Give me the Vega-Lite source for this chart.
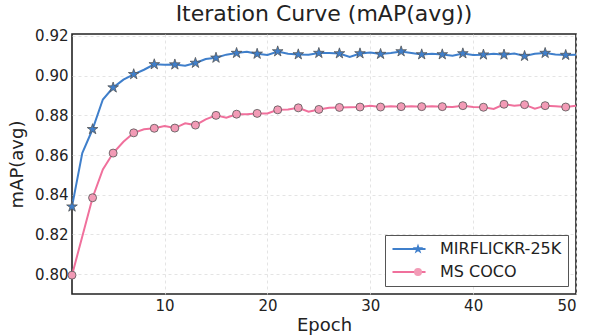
{
  "$schema": "https://vega.github.io/schema/vega-lite/v6.json",
  "width": 504,
  "height": 260,
  "autosize": {"type": "none"},
  "padding": {"left": 72, "top": 34, "right": 19, "bottom": 41},
  "title": {"text": "Iteration Curve (mAP(avg))", "fontSize": 22, "fontWeight": "normal", "color": "#222", "offset": 3},
  "config": {
    "font": "DejaVu Sans",
    "view": {"stroke": "#222", "strokeWidth": 1.6},
    "axis": {"domain": false, "ticks": false, "grid": true, "gridDash": [3, 3], "gridColor": "#dddddd", "gridWidth": 0.8, "labelFontSize": 15, "labelColor": "#222", "titleFontSize": 18, "titleFontWeight": "normal", "titleColor": "#222"}
  },
  "data": {"values": [
    {"epoch":1,"series":"MIRFLICKR-25K","map":0.834},{"epoch":2,"series":"MIRFLICKR-25K","map":0.861},{"epoch":3,"series":"MIRFLICKR-25K","map":0.873},{"epoch":4,"series":"MIRFLICKR-25K","map":0.888},{"epoch":5,"series":"MIRFLICKR-25K","map":0.894},{"epoch":6,"series":"MIRFLICKR-25K","map":0.898},{"epoch":7,"series":"MIRFLICKR-25K","map":0.9007},{"epoch":8,"series":"MIRFLICKR-25K","map":0.903},{"epoch":9,"series":"MIRFLICKR-25K","map":0.9057},{"epoch":10,"series":"MIRFLICKR-25K","map":0.9055},
    {"epoch":11,"series":"MIRFLICKR-25K","map":0.9056},{"epoch":12,"series":"MIRFLICKR-25K","map":0.905},{"epoch":13,"series":"MIRFLICKR-25K","map":0.9064},{"epoch":14,"series":"MIRFLICKR-25K","map":0.9084},{"epoch":15,"series":"MIRFLICKR-25K","map":0.909},{"epoch":16,"series":"MIRFLICKR-25K","map":0.9106},{"epoch":17,"series":"MIRFLICKR-25K","map":0.9114},{"epoch":18,"series":"MIRFLICKR-25K","map":0.912},{"epoch":19,"series":"MIRFLICKR-25K","map":0.911},{"epoch":20,"series":"MIRFLICKR-25K","map":0.9104},
    {"epoch":21,"series":"MIRFLICKR-25K","map":0.9122},{"epoch":22,"series":"MIRFLICKR-25K","map":0.911},{"epoch":23,"series":"MIRFLICKR-25K","map":0.9107},{"epoch":24,"series":"MIRFLICKR-25K","map":0.9106},{"epoch":25,"series":"MIRFLICKR-25K","map":0.9114},{"epoch":26,"series":"MIRFLICKR-25K","map":0.9114},{"epoch":27,"series":"MIRFLICKR-25K","map":0.9112},{"epoch":28,"series":"MIRFLICKR-25K","map":0.9094},{"epoch":29,"series":"MIRFLICKR-25K","map":0.9112},{"epoch":30,"series":"MIRFLICKR-25K","map":0.9117},
    {"epoch":31,"series":"MIRFLICKR-25K","map":0.9109},{"epoch":32,"series":"MIRFLICKR-25K","map":0.9114},{"epoch":33,"series":"MIRFLICKR-25K","map":0.9122},{"epoch":34,"series":"MIRFLICKR-25K","map":0.9114},{"epoch":35,"series":"MIRFLICKR-25K","map":0.9107},{"epoch":36,"series":"MIRFLICKR-25K","map":0.911},{"epoch":37,"series":"MIRFLICKR-25K","map":0.9107},{"epoch":38,"series":"MIRFLICKR-25K","map":0.91},{"epoch":39,"series":"MIRFLICKR-25K","map":0.9112},{"epoch":40,"series":"MIRFLICKR-25K","map":0.9104},
    {"epoch":41,"series":"MIRFLICKR-25K","map":0.9106},{"epoch":42,"series":"MIRFLICKR-25K","map":0.911},{"epoch":43,"series":"MIRFLICKR-25K","map":0.9106},{"epoch":44,"series":"MIRFLICKR-25K","map":0.9112},{"epoch":45,"series":"MIRFLICKR-25K","map":0.9099},{"epoch":46,"series":"MIRFLICKR-25K","map":0.911},{"epoch":47,"series":"MIRFLICKR-25K","map":0.9114},{"epoch":48,"series":"MIRFLICKR-25K","map":0.9107},{"epoch":49,"series":"MIRFLICKR-25K","map":0.9104},{"epoch":50,"series":"MIRFLICKR-25K","map":0.9106},
    {"epoch":1,"series":"MS COCO","map":0.7995},{"epoch":2,"series":"MS COCO","map":0.819},{"epoch":3,"series":"MS COCO","map":0.8385},{"epoch":4,"series":"MS COCO","map":0.8528},{"epoch":5,"series":"MS COCO","map":0.861},{"epoch":6,"series":"MS COCO","map":0.8667},{"epoch":7,"series":"MS COCO","map":0.8712},{"epoch":8,"series":"MS COCO","map":0.873},{"epoch":9,"series":"MS COCO","map":0.8735},{"epoch":10,"series":"MS COCO","map":0.8746},
    {"epoch":11,"series":"MS COCO","map":0.8736},{"epoch":12,"series":"MS COCO","map":0.876},{"epoch":13,"series":"MS COCO","map":0.8751},{"epoch":14,"series":"MS COCO","map":0.878},{"epoch":15,"series":"MS COCO","map":0.88},{"epoch":16,"series":"MS COCO","map":0.8788},{"epoch":17,"series":"MS COCO","map":0.8806},{"epoch":18,"series":"MS COCO","map":0.8806},{"epoch":19,"series":"MS COCO","map":0.881},{"epoch":20,"series":"MS COCO","map":0.881},
    {"epoch":21,"series":"MS COCO","map":0.8828},{"epoch":22,"series":"MS COCO","map":0.883},{"epoch":23,"series":"MS COCO","map":0.8838},{"epoch":24,"series":"MS COCO","map":0.8818},{"epoch":25,"series":"MS COCO","map":0.883},{"epoch":26,"series":"MS COCO","map":0.8838},{"epoch":27,"series":"MS COCO","map":0.884},{"epoch":28,"series":"MS COCO","map":0.8841},{"epoch":29,"series":"MS COCO","map":0.8842},{"epoch":30,"series":"MS COCO","map":0.8848},
    {"epoch":31,"series":"MS COCO","map":0.8842},{"epoch":32,"series":"MS COCO","map":0.8846},{"epoch":33,"series":"MS COCO","map":0.8844},{"epoch":34,"series":"MS COCO","map":0.8846},{"epoch":35,"series":"MS COCO","map":0.8844},{"epoch":36,"series":"MS COCO","map":0.8846},{"epoch":37,"series":"MS COCO","map":0.8844},{"epoch":38,"series":"MS COCO","map":0.8842},{"epoch":39,"series":"MS COCO","map":0.8849},{"epoch":40,"series":"MS COCO","map":0.8842},
    {"epoch":41,"series":"MS COCO","map":0.8841},{"epoch":42,"series":"MS COCO","map":0.8832},{"epoch":43,"series":"MS COCO","map":0.8856},{"epoch":44,"series":"MS COCO","map":0.8849},{"epoch":45,"series":"MS COCO","map":0.8854},{"epoch":46,"series":"MS COCO","map":0.8834},{"epoch":47,"series":"MS COCO","map":0.8849},{"epoch":48,"series":"MS COCO","map":0.8846},{"epoch":49,"series":"MS COCO","map":0.8842},{"epoch":50,"series":"MS COCO","map":0.8849}
  ]},
  "encoding": {
    "x": {"field": "epoch", "type": "quantitative", "scale": {"domain": [1, 50], "nice": false, "zero": false},
          "axis": {"title": "Epoch", "values": [10, 20, 30, 40, 50], "labelPadding": 4, "titlePadding": 3}},
    "y": {"field": "map", "type": "quantitative", "scale": {"domain": [0.79, 0.921], "nice": false, "zero": false},
          "axis": {"title": "mAP(avg)", "values": [0.8, 0.82, 0.84, 0.86, 0.88, 0.9, 0.92], "format": ".2f", "labelPadding": 4, "titlePadding": 8}}
  },
  "layer": [
    {
      "mark": {"type": "line", "strokeWidth": 2},
      "encoding": {
        "color": {"field": "series", "type": "nominal",
          "scale": {"range": ["#3f7fcb", "#f0709c"]},
          "legend": {"title": null, "orient": "bottom-right", "direction": "vertical", "offset": 8, "padding": 6, "rowPadding": 7, "labelOffset": 33,
            "symbolType": "M-1.24,0L5.06,0", "symbolSize": 110, "symbolStrokeWidth": 2, "labelFontSize": 16, "labelColor": "#222",
            "strokeColor": "#555", "fillColor": "white", "cornerRadius": 0}}
      }
    },
    {
      "transform": [{"filter": "datum.epoch % 2 === 1"}],
      "mark": {"type": "point", "filled": true, "size": 64, "stroke": "#555", "strokeWidth": 0.8, "opacity": 1},
      "encoding": {
        "fill": {"field": "series", "type": "nominal", "scale": {"range": ["#3f7fcb", "#f29bb6"]}, "legend": null},
        "shape": {"field": "series", "type": "nominal",
          "scale": {"range": ["M0,-1.4L0.314,-0.433L1.332,-0.433L0.509,0.165L0.823,1.133L0,0.535L-0.823,1.133L-0.509,0.165L-1.332,-0.433L-0.314,-0.433Z", "circle"]},
          "legend": {"title": null, "orient": "none", "direction": "vertical", "legendX": 332, "legendY": 201, "padding": 6, "rowPadding": 7, "labelOffset": 13,
            "labelFontSize": 16, "labelExpr": "''", "symbolStrokeColor": "#555", "symbolStrokeWidth": 0.8, "symbolSize": 64, "symbolOpacity": 1,
            "strokeColor": null, "fillColor": null,
            "encode": {"symbols": {"update": {"fill": {"signal": "datum.value === 'MS COCO' ? '#f29bb6' : '#3f7fcb'"}, "fillOpacity": {"value": 1}}}}}}
      }
    }
  ]
}
